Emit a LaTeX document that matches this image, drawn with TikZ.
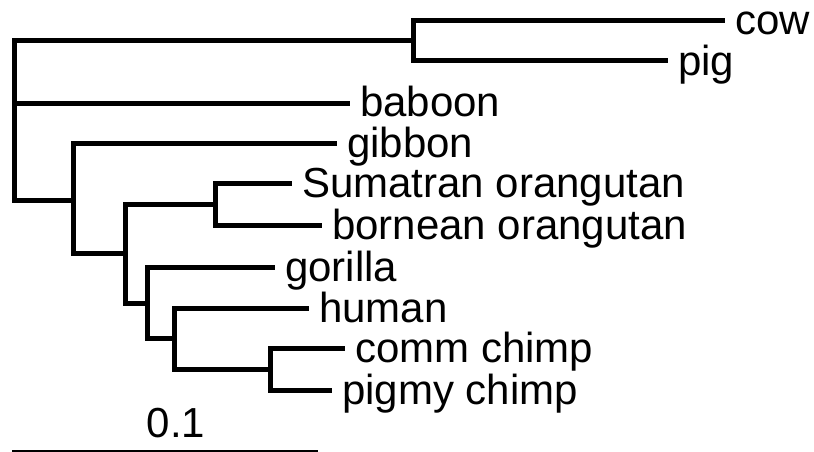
\documentclass[tikz,border=0pt]{standalone}
\usepackage{fontspec}
\setmainfont{Liberation Sans}

\begin{document}
\begin{tikzpicture}[x=1pt,y=-1pt,
    branch/.style={line width=5pt,line join=miter},
    taxon/.style={anchor=base west,inner sep=0pt,xshift=10pt,yshift=-14pt,font=\fontsize{42}{42}\selectfont}]
	\useasboundingbox (0,0) rectangle (814,452);

	%internal nodes
	\coordinate (root) at (14,120);
	\coordinate (ungulates) at (413,41);
	\coordinate (apes) at (73,200);
	\coordinate (great) at (125,253);
	\coordinate (orang) at (215,204);
	\coordinate (african) at (147,303);
	\coordinate (homo) at (174,338);
	\coordinate (pan) at (270,369);

	%leaves
	\coordinate (cow) at (725,21);
	\coordinate (pig) at (668,61);
	\coordinate (baboon) at (350,103);
	\coordinate (gibbon) at (337,143);
	\coordinate (sumatran) at (292,183);
	\coordinate (bornean) at (322,225);
	\coordinate (gorilla) at (275,267);
	\coordinate (human) at (309,308);
	\coordinate (comm) at (345,348);
	\coordinate (pigmy) at (332,390);

	%branches
	\draw[branch] (root) |- (ungulates);
	\draw[branch] (root) |- (baboon);
	\draw[branch] (root) |- (apes);
	\draw[branch] (ungulates) |- (cow);
	\draw[branch] (ungulates) |- (pig);
	\draw[branch] (apes) |- (gibbon);
	\draw[branch] (apes) |- (great);
	\draw[branch] (great) |- (orang);
	\draw[branch] (great) |- (african);
	\draw[branch] (orang) |- (sumatran);
	\draw[branch] (orang) |- (bornean);
	\draw[branch] (african) |- (gorilla);
	\draw[branch] (african) |- (homo);
	\draw[branch] (homo) |- (human);
	\draw[branch] (homo) |- (pan);
	\draw[branch] (pan) |- (comm);
	\draw[branch] (pan) |- (pigmy);

	%labels
	\node[taxon] (cowlab) at (cow) {cow};
	\node[taxon] (piglab) at (pig) {pig};
	\node[taxon] (baboonlab) at (baboon) {baboon};
	\node[taxon] (gibbonlab) at (gibbon) {gibbon};
	\node[taxon] (sumatranlab) at (sumatran) {Sumatran orangutan};
	\node[taxon] (borneanlab) at (bornean) {bornean orangutan};
	\node[taxon] (gorillalab) at (gorilla) {gorilla};
	\node[taxon] (humanlab) at (human) {human};
	\node[taxon] (commlab) at (comm) {comm chimp};
	\node[taxon] (pigmylab) at (pigmy) {pigmy chimp};

	%scale bar
	\coordinate (bar0) at (12,450.5);
	\coordinate (bar1) at (318,450.5);
	\draw[line width=2pt] (bar0) -- (bar1);
	\node[anchor=base,inner sep=0pt,font=\fontsize{42}{42}\selectfont] (scalelab) at (176,437) {0.1};
\end{tikzpicture}
\end{document}
